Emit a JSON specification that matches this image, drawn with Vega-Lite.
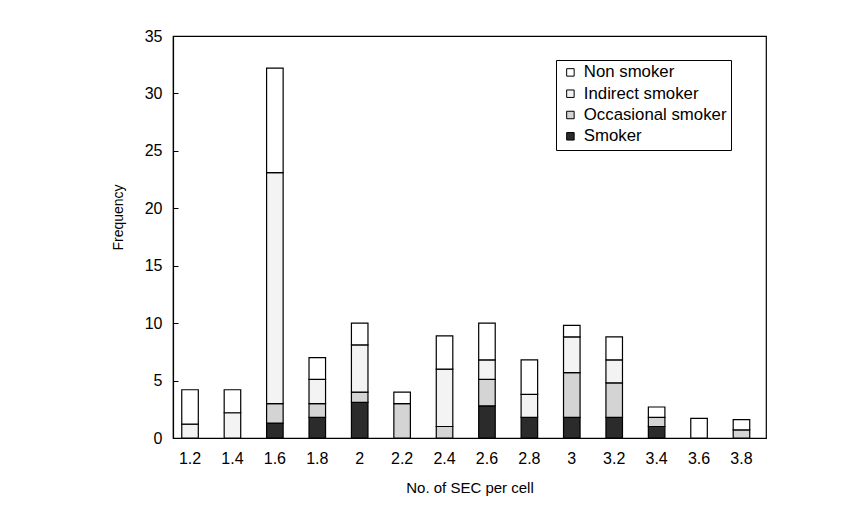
{
  "$schema": "https://vega.github.io/schema/vega-lite/v6.json",
  "width": 593,
  "height": 402,
  "autosize": {"type": "none"},
  "padding": {"left": 173, "top": 36, "right": 97, "bottom": 87},
  "background": "white",
  "config": {
    "font": "Liberation Sans",
    "view": {"stroke": "black", "strokeWidth": 1.2}
  },
  "data": {
    "values": [
      {"sec": 1.2, "status": "Indirect smoker", "frequency": 1.2},
      {"sec": 1.2, "status": "Non smoker", "frequency": 3.0},
      {"sec": 1.4, "status": "Indirect smoker", "frequency": 2.2},
      {"sec": 1.4, "status": "Non smoker", "frequency": 2.0},
      {"sec": 1.6, "status": "Smoker", "frequency": 1.3},
      {"sec": 1.6, "status": "Occasional smoker", "frequency": 1.7},
      {"sec": 1.6, "status": "Indirect smoker", "frequency": 20.1},
      {"sec": 1.6, "status": "Non smoker", "frequency": 9.1},
      {"sec": 1.8, "status": "Smoker", "frequency": 1.8},
      {"sec": 1.8, "status": "Occasional smoker", "frequency": 1.2},
      {"sec": 1.8, "status": "Indirect smoker", "frequency": 2.1},
      {"sec": 1.8, "status": "Non smoker", "frequency": 1.9},
      {"sec": 2, "status": "Smoker", "frequency": 3.1},
      {"sec": 2, "status": "Occasional smoker", "frequency": 0.9},
      {"sec": 2, "status": "Indirect smoker", "frequency": 4.1},
      {"sec": 2, "status": "Non smoker", "frequency": 1.9},
      {"sec": 2.2, "status": "Occasional smoker", "frequency": 3.0},
      {"sec": 2.2, "status": "Non smoker", "frequency": 1.0},
      {"sec": 2.4, "status": "Occasional smoker", "frequency": 1.0},
      {"sec": 2.4, "status": "Indirect smoker", "frequency": 5.0},
      {"sec": 2.4, "status": "Non smoker", "frequency": 2.9},
      {"sec": 2.6, "status": "Smoker", "frequency": 2.8},
      {"sec": 2.6, "status": "Occasional smoker", "frequency": 2.3},
      {"sec": 2.6, "status": "Indirect smoker", "frequency": 1.7},
      {"sec": 2.6, "status": "Non smoker", "frequency": 3.2},
      {"sec": 2.8, "status": "Smoker", "frequency": 1.8},
      {"sec": 2.8, "status": "Indirect smoker", "frequency": 2.0},
      {"sec": 2.8, "status": "Non smoker", "frequency": 3.0},
      {"sec": 3, "status": "Smoker", "frequency": 1.8},
      {"sec": 3, "status": "Occasional smoker", "frequency": 3.9},
      {"sec": 3, "status": "Indirect smoker", "frequency": 3.1},
      {"sec": 3, "status": "Non smoker", "frequency": 1.0},
      {"sec": 3.2, "status": "Smoker", "frequency": 1.8},
      {"sec": 3.2, "status": "Occasional smoker", "frequency": 3.0},
      {"sec": 3.2, "status": "Indirect smoker", "frequency": 2.0},
      {"sec": 3.2, "status": "Non smoker", "frequency": 2.0},
      {"sec": 3.4, "status": "Smoker", "frequency": 1.0},
      {"sec": 3.4, "status": "Occasional smoker", "frequency": 0.8},
      {"sec": 3.4, "status": "Non smoker", "frequency": 0.9},
      {"sec": 3.6, "status": "Non smoker", "frequency": 1.7},
      {"sec": 3.8, "status": "Occasional smoker", "frequency": 0.7},
      {"sec": 3.8, "status": "Non smoker", "frequency": 0.9}
    ]
  },
  "transform": [
    {"calculate": "indexof(['Smoker','Occasional smoker','Indirect smoker','Non smoker'], datum.status)", "as": "stack_rank"}
  ],
  "mark": {"type": "bar", "stroke": "black", "strokeWidth": 1.2},
  "encoding": {
    "x": {
      "field": "sec",
      "type": "ordinal",
      "scale": {"paddingInner": 0.61, "paddingOuter": 0.295, "align": 0.35},
      "axis": {
        "title": "No. of SEC per cell",
        "ticks": false,
        "labelAngle": 0,
        "labelPadding": 12,
        "labelFontSize": 16,
        "labelColor": "black",
        "titleFontSize": 15,
        "titleFontWeight": "normal",
        "titleColor": "black",
        "titlePadding": 14,
        "domainColor": "black",
        "domainWidth": 1.2
      }
    },
    "y": {
      "field": "frequency",
      "type": "quantitative",
      "stack": "zero",
      "scale": {"domain": [0, 35], "nice": false},
      "axis": {
        "title": "Frequency",
        "values": [0, 5, 10, 15, 20, 25, 30, 35],
        "grid": false,
        "tickSize": -5,
        "tickColor": "black",
        "labelPadding": 16,
        "labelFontSize": 16,
        "labelColor": "black",
        "titleFontSize": 14,
        "titleFontWeight": "normal",
        "titleColor": "black",
        "titlePadding": 19,
        "titleY": 181,
        "domainColor": "black",
        "domainWidth": 1.2
      }
    },
    "color": {
      "field": "status",
      "type": "nominal",
      "scale": {
        "domain": ["Non smoker", "Indirect smoker", "Occasional smoker", "Smoker"],
        "range": ["#ffffff", "#f3f3f3", "#d4d4d4", "#2b2b2b"]
      },
      "legend": {
        "orient": "none",
        "legendX": 383,
        "legendY": 24,
        "title": null,
        "strokeColor": "black",
        "fillColor": "white",
        "padding": 4,
        "symbolType": "square",
        "symbolSize": 56,
        "symbolStrokeColor": "black",
        "symbolStrokeWidth": 1,
        "symbolOffset": 2,
        "labelFontSize": 16.8,
        "labelOffset": 5,
        "labelColor": "black",
        "rowPadding": 3.3
      }
    },
    "order": {"field": "stack_rank", "type": "quantitative", "sort": "ascending"}
  }
}
